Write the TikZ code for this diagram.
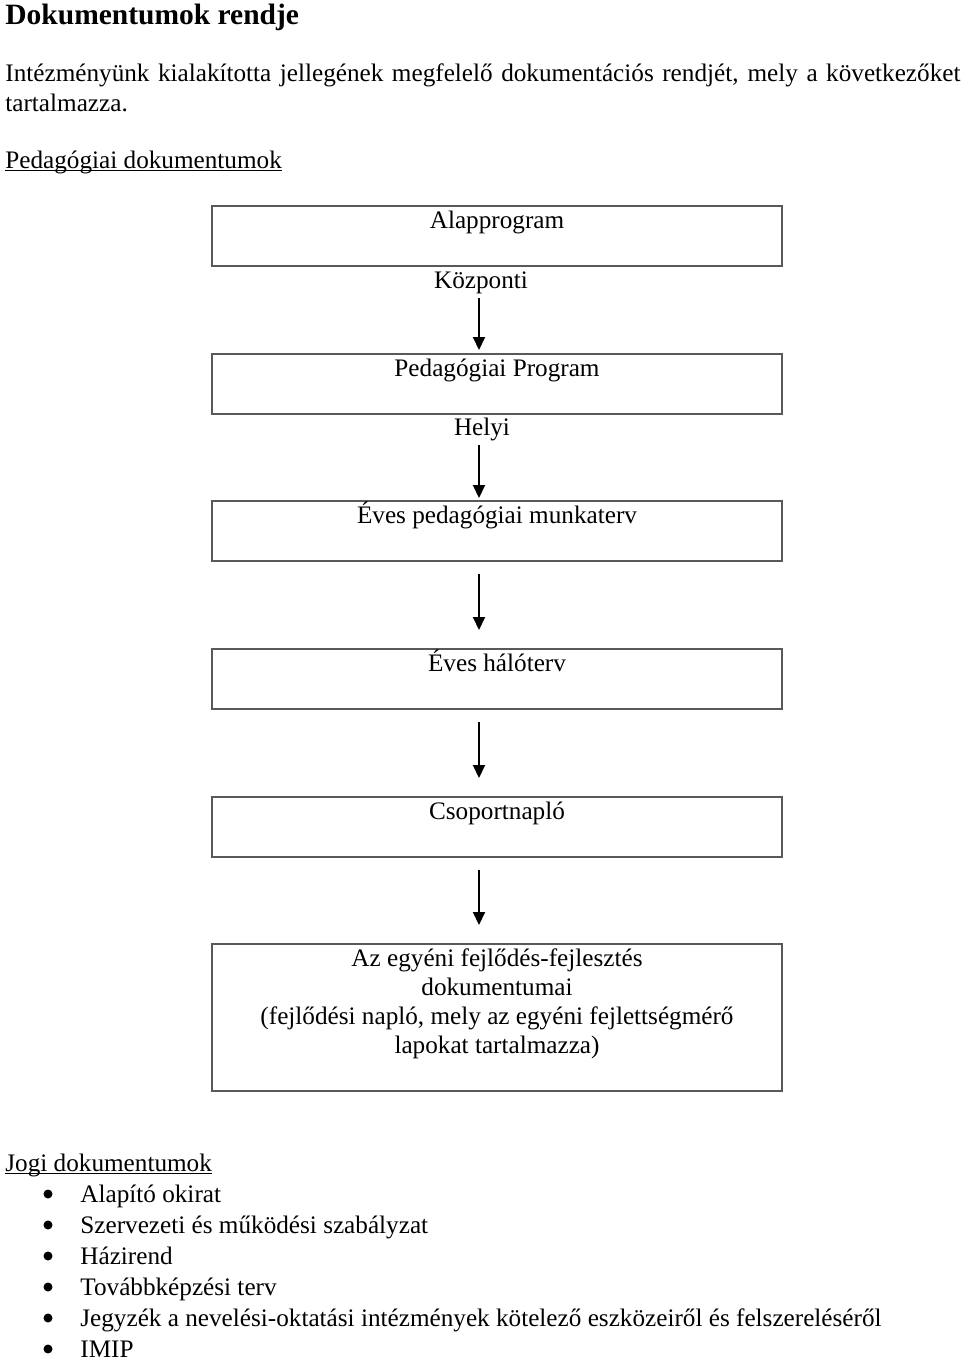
\documentclass[tikz,border=0pt]{standalone}
\usepackage{fontspec}
\setmainfont{Liberation Serif}
\usetikzlibrary{arrows.meta,positioning}
\newcommand\docul[1]{{\setbox0\hbox{#1}\rlap{\rule[-1.3pt]{\wd0}{0.55pt}}\box0}}

\begin{document}
\begin{tikzpicture}[
  x=0.5pt, y=-0.5pt,
  every node/.style={inner sep=0pt, font=\fontsize{12.6}{15}\selectfont},
  docbox/.style={rectangle, draw=black!65, line width=0.75pt, minimum width=285pt, text height=11.5pt, text depth=18.5pt, anchor=north, align=center},
  flowlabel/.style={anchor=base},
  textline/.style={anchor=base west},
  arrow/.style={-{Triangle[length=6.5pt,width=6pt]}, line width=1pt},
  dot/.style={circle, fill=black, minimum size=4.5pt}
]
\useasboundingbox (0,0) rectangle (960,1361);

% Title and intro
\node[textline, font=\fontsize{14.75}{17}\selectfont\bfseries] (title) at (5,24) {Dokumentumok rendje};
\node[textline] (intro1) at (5,81) {\makebox[477.5pt][s]{Intézményünk kialakította jellegének megfelelő dokumentációs rendjét, mely a következőket}};
\node[textline] (intro2) at (5,111) {tartalmazza.};
\node[textline] (pedhead) at (5,168) {\docul{Pedagógiai dokumentumok}};

% Boxes
\node[docbox] (alap) at (497,205) {Alapprogram};
\node[flowlabel] (kozp) at (481,288) {Központi};
\node[docbox] (pedprog) at (497,353) {Pedagógiai Program};
\node[flowlabel] (helyi) at (482,435) {Helyi};
\node[docbox] (munkaterv) at (497,500) {Éves pedagógiai munkaterv};
\node[docbox] (haloterv) at (497,648) {Éves hálóterv};
\node[docbox] (naplo) at (497,796) {Csoportnapló};
\node[docbox, text height=55pt, font=\fontsize{12.6}{14.5}\selectfont] (fejlodes) at (497,943) {Az egyéni fejlődés-fejlesztés\\dokumentumai\\(fejlődési napló, mely az egyéni fejlettségmérő\\lapokat tartalmazza)};

% Arrows
\coordinate (ax) at (479,0);
\draw[arrow, shorten <=2pt, shorten >=1.5pt] (kozp.south -| ax) -- (pedprog.north -| ax);
\draw[arrow, shorten <=2.3pt, shorten >=1pt] (helyi.south -| ax) -- (munkaterv.north -| ax);
\foreach \a/\b in {munkaterv/haloterv, haloterv/naplo, naplo/fejlodes}
  \draw[arrow, shorten <=6pt, shorten >=9pt] (\a.south -| ax) -- (\b.north -| ax);

% Jogi dokumentumok
\node[textline] (joghead) at (5,1171) {\docul{Jogi dokumentumok}};
\foreach \entry [count=\i] in {Alapító okirat, Szervezeti és működési szabályzat, Házirend, Továbbképzési terv, Jegyzék a nevelési-oktatási intézmények kötelező eszközeiről és felszereléséről, IMIP} {
  \node[textline] (item\i) at (80,{1171+31*\i}) {\entry};
  \node[dot] (dot\i) at (48,{1163+31*\i}) {};
}

\end{tikzpicture}
\end{document}
